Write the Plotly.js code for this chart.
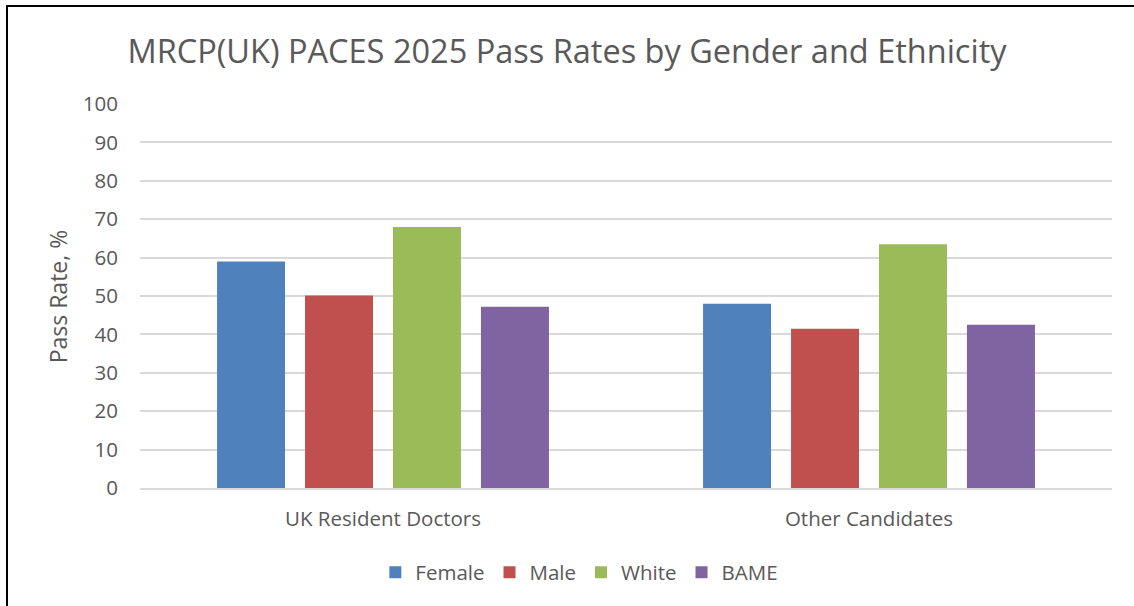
<!DOCTYPE html>
<html>
<head>
<meta charset="utf-8">
<script src="https://cdn.plot.ly/plotly-3.0.1.min.js"></script>
<style>
html,body{margin:0;padding:0;background:#fff;}
#wrap{position:absolute;left:0;top:0;width:1134px;height:606px;}
#frame{position:absolute;left:6px;top:5px;width:1128px;height:601px;border-left:2px solid #000;border-top:2px solid #000;pointer-events:none;}
#chart{position:absolute;left:0;top:0;width:1134px;height:606px;}
</style>
</head>
<body>
<div id="wrap">
<div id="chart"></div>
<div id="frame"></div>
</div>
<script>
const categories = ["UK Resident Doctors", "Other Candidates"];
const seriesNames = ["Female", "Male", "White", "BAME"];
const female = [59, 48];
const male = [50.1, 41.5];
const white = [68, 63.5];
const bame = [47.2, 42.5];
const colors = ["#4f81bd", "#c0504d", "#9bbb59", "#8064a2"];

const values = [female, male, white, bame];
const font = "Open Sans, Noto Sans, sans-serif";

const traces = seriesNames.map((n, i) => ({
  type: "bar",
  name: n,
  x: categories,
  y: values[i],
  marker: {color: colors[i]},
  hoverinfo: "x+y+name"
}));

const layout = {
  width: 1134,
  height: 606,
  paper_bgcolor: "#fff",
  plot_bgcolor: "#fff",
  margin: {l: 140, r: 22, t: 104, b: 118},
  title: {
    text: "MRCP(UK) PACES 2025 Pass Rates by Gender and Ethnicity",
    font: {family: font, size: 32.5, color: "#595959"},
    x: 0.5, xanchor: "center",
    y: 0.915, yanchor: "middle"
  },
  barmode: "group",
  bargap: 0.276,
  bargroupgap: 0.227,
  xaxis: {
    showgrid: false,
    showline: true,
    linecolor: "#d9d9d9",
    linewidth: 1.5,
    ticks: "",
    tickfont: {family: font, size: 20.5, color: "#595959"},
    ticklabelstandoff: 12
  },
  yaxis: {
    range: [0, 100],
    dtick: 10,
    showgrid: true,
    gridcolor: "#d9d9d9",
    gridwidth: 1.5,
    zeroline: false,
    showline: false,
    ticks: "",
    tickfont: {family: font, size: 20.5, color: "#595959"},
    ticklabelstandoff: 21
  },
  annotations: [{
    text: "Pass Rate, %",
    textangle: -90,
    xref: "paper", yref: "paper",
    x: -0.084, xanchor: "center",
    y: 0.5, yanchor: "middle",
    showarrow: false,
    font: {family: font, size: 23, color: "#595959"}
  }],
  legend: {
    orientation: "h",
    x: 0.452, xanchor: "center",
    y: -0.22, yanchor: "middle",
    font: {family: font, size: 20.5, color: "#595959"},
    itemwidth: 20,
    traceorder: "normal"
  },
  showlegend: true
};

Plotly.newPlot("chart", traces, layout, {displayModeBar: false});
</script>
</body>
</html>
